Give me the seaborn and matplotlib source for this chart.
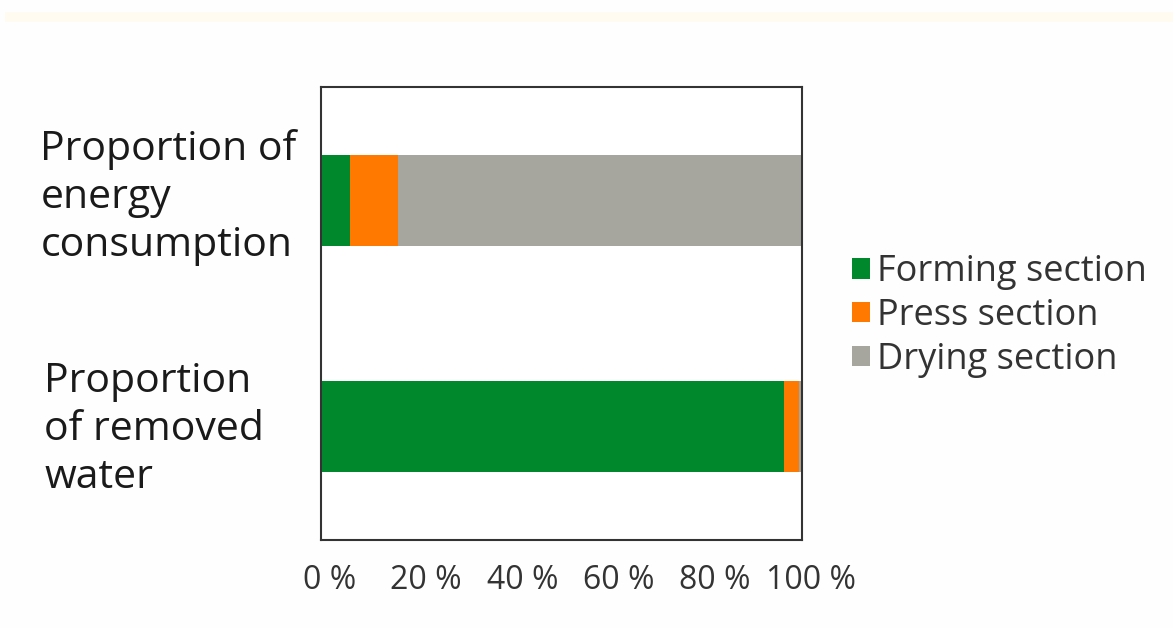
import numpy as np
import pandas as pd
import matplotlib
matplotlib.use("Agg")
import matplotlib.pyplot as plt
import matplotlib.transforms as mtransforms
import seaborn as sns
from matplotlib.patches import Patch, Rectangle

categories = ["Proportion of\nenergy\nconsumption", "Proportion\nof removed\nwater"]
sections = ["Forming section", "Press section", "Drying section"]
forming = [6.0, 96.3]
press = [10.0, 3.1]
drying = [84.0, 0.6]
colors = ["#00892c", "#ff7800", "#a6a59e"]
tick_values = [0, 20, 40, 60, 80, 100]
tick_labels = ["0 %", "20 %", "40 %", "60 %", "80 %", "100 %"]

sns.set_theme(style="white")
plt.rcParams["font.family"] = ["Open Sans", "DejaVu Sans"]

fig = plt.figure(figsize=(11.73, 6.28), dpi=100, facecolor="#fefefe")
# faint header band along the top of the canvas
fig.patches.append(Rectangle((5 / 1173, 1 - 22 / 628), 1, 10 / 628,
                             transform=fig.transFigure, facecolor="#fffbf1",
                             edgecolor="none", zorder=0))
ax = fig.add_axes([321 / 1173, 1 - 540 / 628, 481 / 1173, 453 / 628])
ax.set_facecolor("white")

# stacked bars drawn as cumulative layers, widest first
layers = np.cumsum(np.array([forming, press, drying]), axis=0)
for i in reversed(range(len(sections))):
    df = pd.DataFrame({"category": categories, "value": layers[i]})
    sns.barplot(data=df, x="value", y="category", orient="h", color=colors[i],
                saturation=1, width=0.4, ax=ax, linewidth=0)

ax.set_xlim(0, 100)
ax.set_ylim(1.5, -0.5)
ax.set_xticks(tick_values)
ax.set_xticklabels(tick_labels, fontsize=23, color="#333333")
ax.set_xlabel("")
ax.set_ylabel("")
ax.tick_params(axis="x", direction="out", length=9, width=1.5, color="#333333", pad=8)
ax.tick_params(axis="y", length=0, pad=202)
shift = mtransforms.ScaledTranslation(9 / 100, 0, fig.dpi_scale_trans)
for lbl in ax.get_xticklabels():
    lbl.set_transform(lbl.get_transform() + shift)
# per-label nudges (in pixels) for the category labels
label_nudges = [(0, 3), (4, -3)]
for (dx, dy), lbl in zip(label_nudges, ax.get_yticklabels()):
    lbl.set_horizontalalignment("left")
    lbl.set_verticalalignment("center")
    lbl.set_fontsize(29.5)
    lbl.set_color("#1a1a1a")
    lbl.set_linespacing(1.24)
    nudge = mtransforms.ScaledTranslation(dx / 100, dy / 100, fig.dpi_scale_trans)
    lbl.set_transform(lbl.get_transform() + nudge)
for s in ax.spines.values():
    s.set_visible(True)
    s.set_color("#333333")
    s.set_linewidth(1.5)

handles = [Patch(facecolor=c, edgecolor="none", label=s) for c, s in zip(colors, sections)]
fig.legend(handles=handles, loc="center left", bbox_to_anchor=(852 / 1173, 1 - 316 / 628),
           frameon=False, fontsize=26, handlelength=0.5, handleheight=0.5,
           handletextpad=0.2, labelspacing=0.22, borderpad=0, borderaxespad=0,
           labelcolor="#333333")

fig.savefig("out.png", dpi=100, facecolor=fig.get_facecolor())
